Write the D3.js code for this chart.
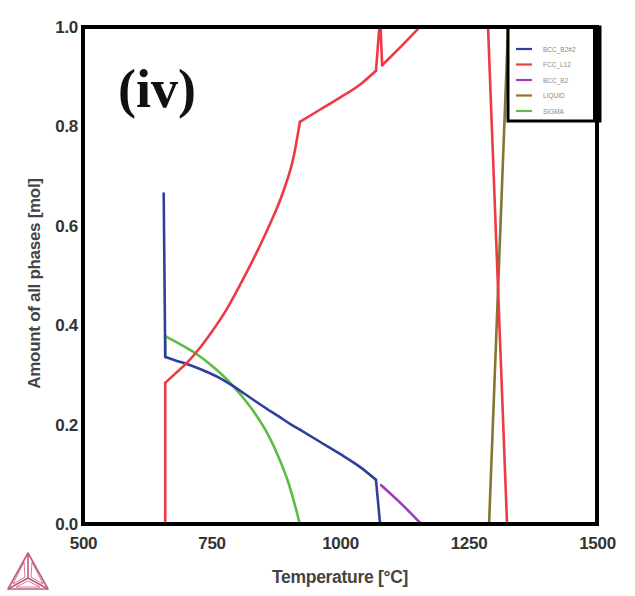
<!DOCTYPE html>
<html>
<head>
<meta charset="utf-8">
<script src="https://cdn.jsdelivr.net/npm/d3@7"></script>
<style>
  body { margin: 0; background: #fff; }
  svg { display: block; }
</style>
</head>
<body>
<svg id="chart" width="635" height="596"></svg>
<script>
// phase names (legend order)
const phases = ["BCC_B2#2", "FCC_L12", "BCC_B2", "LIQUID", "SIGMA"];
const colors = ["#2f3f9c", "#ee3a45", "#9a3fbf", "#857530", "#5bbd42"];

const xTicks = [500, 750, 1000, 1250, 1500];
const yTicks = [0, 0.2, 0.4, 0.6, 0.8, 1.0];

// [temperature °C, amount mol]
const bccB2_2Jump = [[657, 0.665], [660, 0.336]];
const bccB2_2Low = [[660, 0.336], [680, 0.329], [702, 0.322], [730, 0.311], [760, 0.297],
  [790, 0.279], [820, 0.258], [850, 0.237], [880, 0.217], [905, 0.2], [922, 0.19]];
const bccB2_2High = [[922, 0.19], [960, 0.166], [1000, 0.141], [1040, 0.114], [1070, 0.089]];
const bccB2_2End = [[1070, 0.089], [1078, 0]];

const fccL12Jump = [[660, 0], [660, 0.284]];
const fccL12Low = [[660, 0.284], [680, 0.303], [702, 0.324], [720, 0.345], [750, 0.386],
  [780, 0.433], [805, 0.48], [830, 0.53], [860, 0.595], [890, 0.67], [910, 0.74], [922, 0.809]];
const fccL12High = [[922, 0.809], [960, 0.833], [1000, 0.858], [1040, 0.885], [1070, 0.912]];
const fccL12Spike = [[1070, 0.912], [1078, 1.02], [1082, 0.923]];
const fccL12Top = [[1082, 0.923], [1120, 0.962], [1160, 1.005]];
const fccL12Melt = [[1288, 1.0], [1325, 0]];

const bccB2 = [[1080, 0.078], [1120, 0.04], [1158, 0]];
const liquid = [[1290, 0], [1327, 1.0]];

const sigmaJump = [[660, 0.336], [660, 0.378]];
const sigmaCurve = [[660, 0.378], [690, 0.361], [718, 0.344], [750, 0.319], [780, 0.291],
  [810, 0.256], [835, 0.222], [860, 0.18], [880, 0.136], [900, 0.082], [922, 0]];

const series = [
  { phase: "LIQUID", pts: liquid },
  { phase: "SIGMA", pts: sigmaJump },
  { phase: "SIGMA", pts: sigmaCurve, smooth: true },
  { phase: "BCC_B2", pts: bccB2, smooth: true },
  { phase: "BCC_B2#2", pts: bccB2_2Jump },
  { phase: "BCC_B2#2", pts: bccB2_2Low, smooth: true },
  { phase: "BCC_B2#2", pts: bccB2_2High, smooth: true },
  { phase: "BCC_B2#2", pts: bccB2_2End },
  { phase: "FCC_L12", pts: fccL12Jump },
  { phase: "FCC_L12", pts: fccL12Low, smooth: true },
  { phase: "FCC_L12", pts: fccL12High, smooth: true },
  { phase: "FCC_L12", pts: fccL12Spike },
  { phase: "FCC_L12", pts: fccL12Top },
  { phase: "FCC_L12", pts: fccL12Melt }
];

const svg = d3.select("#chart");
const margin = { top: 27, right: 38, bottom: 72, left: 83 };
const width = 635 - margin.left - margin.right;
const height = 596 - margin.top - margin.bottom;

const color = d3.scaleOrdinal().domain(phases).range(colors);
const x = d3.scaleLinear().domain([500, 1500]).range([0, width]);
const y = d3.scaleLinear().domain([0, 1]).range([height, 0]);

const g = svg.append("g").attr("transform", `translate(${margin.left},${margin.top})`);

g.append("defs").append("clipPath").attr("id", "clip")
  .append("rect").attr("width", width).attr("height", height);

// axes (no tick marks, only labels)
const xAxis = g.append("g")
  .attr("transform", `translate(0,${height})`)
  .call(d3.axisBottom(x).tickValues(xTicks).tickSize(0).tickPadding(13).tickFormat(d3.format("d")));
const yAxis = g.append("g")
  .call(d3.axisLeft(y).tickValues(yTicks).tickSize(0).tickPadding(5).tickFormat(d3.format(".1f")));
[xAxis, yAxis].forEach(a => {
  a.select(".domain").remove();
  a.selectAll("text")
    .style("font-family", "'Liberation Sans', Arial, sans-serif")
    .style("font-size", "17px")
    .style("font-weight", "bold")
    .style("letter-spacing", "-0.3px")
    .attr("fill", "#333");
});

// curves
const line = d3.line().x(d => x(d[0])).y(d => y(d[1]));
const smoothLine = d3.line().x(d => x(d[0])).y(d => y(d[1])).curve(d3.curveMonotoneX);
g.append("g").attr("clip-path", "url(#clip)")
  .selectAll("path")
  .data(series).enter()
  .append("path")
  .attr("d", d => d.smooth ? smoothLine(d.pts) : line(d.pts))
  .attr("fill", "none")
  .attr("stroke", d => color(d.phase))
  .attr("stroke-width", 2.6)
  .attr("stroke-linejoin", "round")
  .attr("stroke-linecap", "round");

// legend box
const legend = g.append("g").attr("transform", "translate(425,0)");
legend.append("rect")
  .attr("x", 0).attr("y", 0).attr("width", 92).attr("height", 94)
  .attr("fill", "#fff").attr("stroke", "#000").attr("stroke-width", 3);
legend.append("rect")
  .attr("x", 85).attr("y", 0).attr("width", 7).attr("height", 94)
  .attr("fill", "#000");
legend.selectAll(".item")
  .data(phases).enter()
  .append("g")
  .attr("class", "item")
  .attr("transform", (d, i) => `translate(8,${22 + i * 15.5})`)
  .each(function (d) {
    const it = d3.select(this);
    it.append("line").attr("x1", 0).attr("x2", 16).attr("y1", 0).attr("y2", 0)
      .attr("stroke", color(d)).attr("stroke-width", 2.2);
    it.append("text").attr("x", 27).attr("y", 2.5)
      .style("font-family", "'Liberation Sans', Arial, sans-serif")
      .style("font-size", "6.5px")
      .attr("fill", "#888")
      .text(d);
  });

// frame
g.append("rect")
  .attr("width", width).attr("height", height)
  .attr("fill", "none").attr("stroke", "#000").attr("stroke-width", 4);

// panel label
g.append("text")
  .attr("x", 35).attr("y", 80)
  .style("font-family", "'Liberation Serif', 'Times New Roman', serif")
  .style("font-size", "54px")
  .style("font-weight", "bold")
  .attr("fill", "#111")
  .text("(iv)");

// axis titles
svg.append("text")
  .attr("x", margin.left + width / 2).attr("y", 583)
  .attr("text-anchor", "middle")
  .style("font-family", "'Liberation Sans', Arial, sans-serif")
  .style("font-size", "17.5px").style("font-weight", "bold")
  .style("letter-spacing", "-0.3px")
  .attr("fill", "#444")
  .text("Temperature [°C]");
svg.append("text")
  .attr("transform", `translate(40,${margin.top + height / 2 + 8}) rotate(-90)`)
  .attr("text-anchor", "middle")
  .style("font-family", "'Liberation Sans', Arial, sans-serif")
  .style("font-size", "17px").style("font-weight", "bold")
  .style("letter-spacing", "-0.3px")
  .attr("fill", "#444")
  .text("Amount of all phases [mol]");

// Thermo-Calc style logo
const logo = svg.append("g").attr("transform", "translate(28,570)")
  .attr("fill", "none").attr("stroke", "#c25a78").attr("stroke-width", 1.6)
  .attr("stroke-linejoin", "round");
logo.append("path").attr("d", "M0,-17 L-20,19 L20,19 Z");
logo.append("path").attr("d", "M0,-17 L0,8 M-20,19 L0,8 L20,19");
logo.append("path").attr("d", "M-4,-8 L-15,14 L-3,7 Z M4,-8 L15,14 L3,7 Z M-12,17 L12,17 L0,11 Z")
  .attr("stroke-width", 0.8);
</script>
</body>
</html>
